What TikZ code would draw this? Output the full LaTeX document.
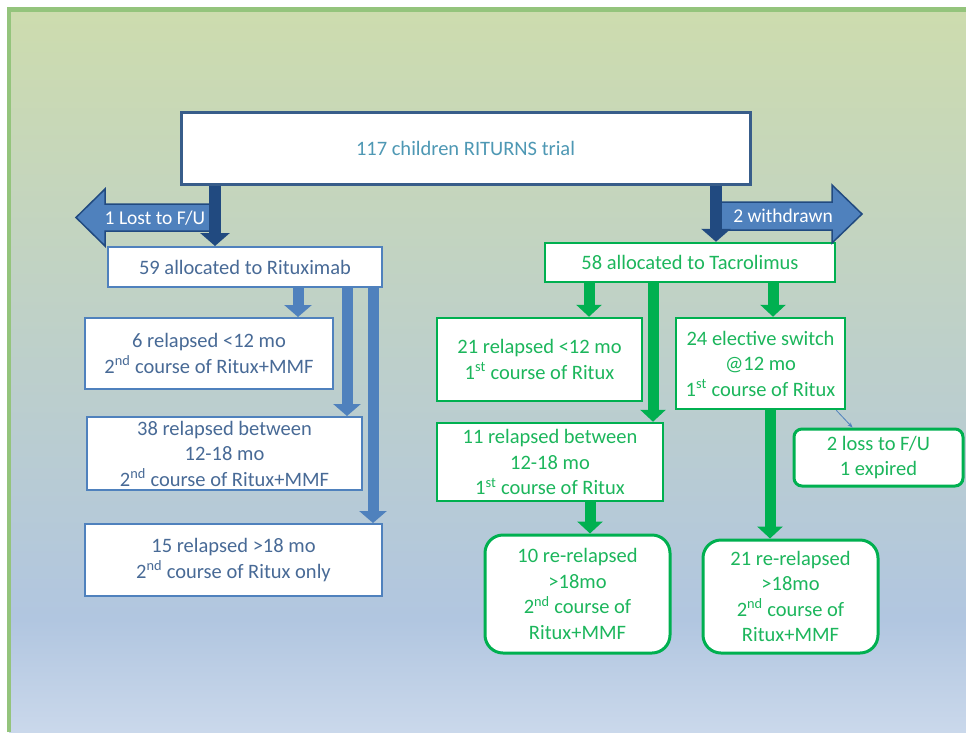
\documentclass[tikz,border=0pt]{standalone}
\usepackage{fontspec}
\setmainfont{Carlito}
\usetikzlibrary{arrows.meta,calc}
\definecolor{bgtop}{RGB}{205,220,174}
\definecolor{bgblue}{RGB}{177,198,224}
\definecolor{bgbot}{RGB}{202,216,235}
\definecolor{framegreen}{RGB}{148,196,124}
\definecolor{bblue}{RGB}{79,129,189}
\definecolor{dblue}{RGB}{33,74,128}
\definecolor{topborder}{RGB}{56,93,138}
\definecolor{btext}{RGB}{72,106,150}
\definecolor{ttext}{RGB}{78,152,180}
\definecolor{ggreen}{RGB}{0,176,80}
\definecolor{gtext}{RGB}{28,182,92}
\newcommand\boxfont{\fontsize{20.5}{25.5}\selectfont}
\newcommand\topfont{\fontsize{20.5}{24}\selectfont}
\newcommand\arrfont{\fontsize{19.5}{22}\selectfont}
\begin{document}
\begin{tikzpicture}[x=1pt,y=-1pt,
  lbox/.style={draw=bblue, line width=2pt, fill=white, text=btext, align=center, inner sep=0pt, font=\boxfont},
  gbox/.style={draw=ggreen, line width=2.5pt, fill=white, text=gtext, align=center, inner sep=0pt, font=\boxfont},
  rbox/.style={gbox, line width=3pt, rounded corners=18pt},
  barrow/.style={draw=bblue, line width=11pt, -{Triangle[width=27pt,length=12pt]}},
  garrow/.style={draw=ggreen, line width=11pt, -{Triangle[width=25pt,length=12pt]}},
  darrow/.style={draw=dblue, line width=12pt, -{Triangle[width=29pt,length=13pt]}},
  blockarrow/.style={fill=bblue, draw=dblue, line width=1.5pt, line join=miter},
  arrtext/.style={text=white, font=\arrfont, inner sep=0pt}]
\useasboundingbox (0,0) rectangle (966,732);
\fill[white] (0,0) rectangle (966,732);
\shade[top color=bgtop, bottom color=bgblue] (9,10) rectangle (966,620);
\shade[top color=bgblue, bottom color=bgbot] (9,619.5) rectangle (966,732);
\draw[framegreen, line width=4.5pt] (9,732) -- (9,9.5) -- (966,9.5);

% nodes
\node[draw=topborder, line width=3pt, fill=white, text=ttext, font=\topfont, inner sep=0pt,
      minimum width=569pt, minimum height=72pt] (top) at (465.5,148) {117 children RITURNS trial};
\node[lbox, minimum width=274pt, minimum height=40pt] (ritux) at (245,267) {59 allocated to Rituximab};
\node[gbox, minimum width=290pt, minimum height=39pt] (tacro) at (690,262.5) {58 allocated to Tacrolimus};

\node[lbox, minimum width=248pt, minimum height=71pt] (a) at (209,353.5)
  {6 relapsed {<}12 mo\\2\textsuperscript{nd} course of Ritux+MMF};
\node[lbox, minimum width=275pt, minimum height=73pt] (b) at (224.5,453.5)
  {38 relapsed between\\12-18 mo\\2\textsuperscript{nd} course of Ritux+MMF};
\node[lbox, minimum width=297pt, minimum height=72pt] (c) at (233.5,560)
  {15 relapsed {>}18 mo\\2\textsuperscript{nd} course of Ritux only};

\node[gbox, minimum width=205pt, minimum height=83pt] (d) at (539.5,359.5)
  {21 relapsed {<}12 mo\\1\textsuperscript{st} course of Ritux};
\node[gbox, minimum width=226pt, minimum height=78pt] (e) at (550,462)
  {11 relapsed between\\12-18 mo\\1\textsuperscript{st} course of Ritux};
\node[gbox, minimum width=169pt, minimum height=91pt] (f) at (760.5,363.5)
  {24 elective switch\\@12 mo\\1\textsuperscript{st} course of Ritux};
\node[gbox, line width=3pt, rounded corners=8pt, minimum width=169pt, minimum height=57pt] (g) at (878.5,457.5)
  {2 loss to F/U\\1 expired};
\node[rbox, minimum width=185pt, minimum height=118pt] (h) at (577.5,594)
  {10 re-relapsed\\{>}18mo\\2\textsuperscript{nd} course of\\Ritux+MMF};
\node[rbox, minimum width=175pt, minimum height=113pt] (i) at (790.5,596.5)
  {21 re-relapsed\\{>}18mo\\2\textsuperscript{nd} course of\\Ritux+MMF};

% block arrows (exclusions)
\draw[blockarrow] (212,204) -- (105,204) -- (105,189) -- (76,217.5) -- (105,246) -- (105,231) -- (212,231) -- cycle;
\node[arrtext] (lost) at (155,218) {1 Lost to F/U};
\draw[blockarrow] (716,202) -- (832,202) -- (832,185) -- (862,214) -- (832,243) -- (832,230) -- (716,230) -- cycle;
\node[arrtext] (withdrawn) at (783,216) {2 withdrawn};

% x positions of connectors
\coordinate (xl) at (215,0);
\coordinate (xr) at (716,0);
\coordinate (xa) at (298,0);
\coordinate (xb) at (347,0);
\coordinate (xc) at (373,0);
\coordinate (xd) at (589,0);
\coordinate (xe) at (653,0);
\coordinate (xf) at (773,0);
\coordinate (xi) at (770,0);
\coordinate (xh) at (590,0);

\draw[darrow] (top.south -| xl) -- (ritux.north -| xl);
\draw[darrow] (top.south -| xr) -- (tacro.north -| xr);

\draw[barrow] (ritux.south -| xa) -- (a.north -| xa);
\draw[barrow] (ritux.south -| xb) -- (b.north -| xb);
\draw[barrow] (ritux.south -| xc) -- (c.north -| xc);

\draw[garrow] (tacro.south -| xd) -- (d.north -| xd);
\draw[garrow] (tacro.south -| xe) -- (e.north -| xe);
\draw[garrow] (tacro.south -| xf) -- (f.north -| xf);
\draw[garrow] (e.south -| xh) -- (h.north -| xh);
\draw[garrow] (f.south -| xi) -- (i.north -| xi);

\draw[bblue, line width=0.8pt, -{Stealth[length=5pt,width=4pt]}] ([xshift=-10pt]f.south east) -- ([xshift=-26pt]g.north);
\end{tikzpicture}
\end{document}
